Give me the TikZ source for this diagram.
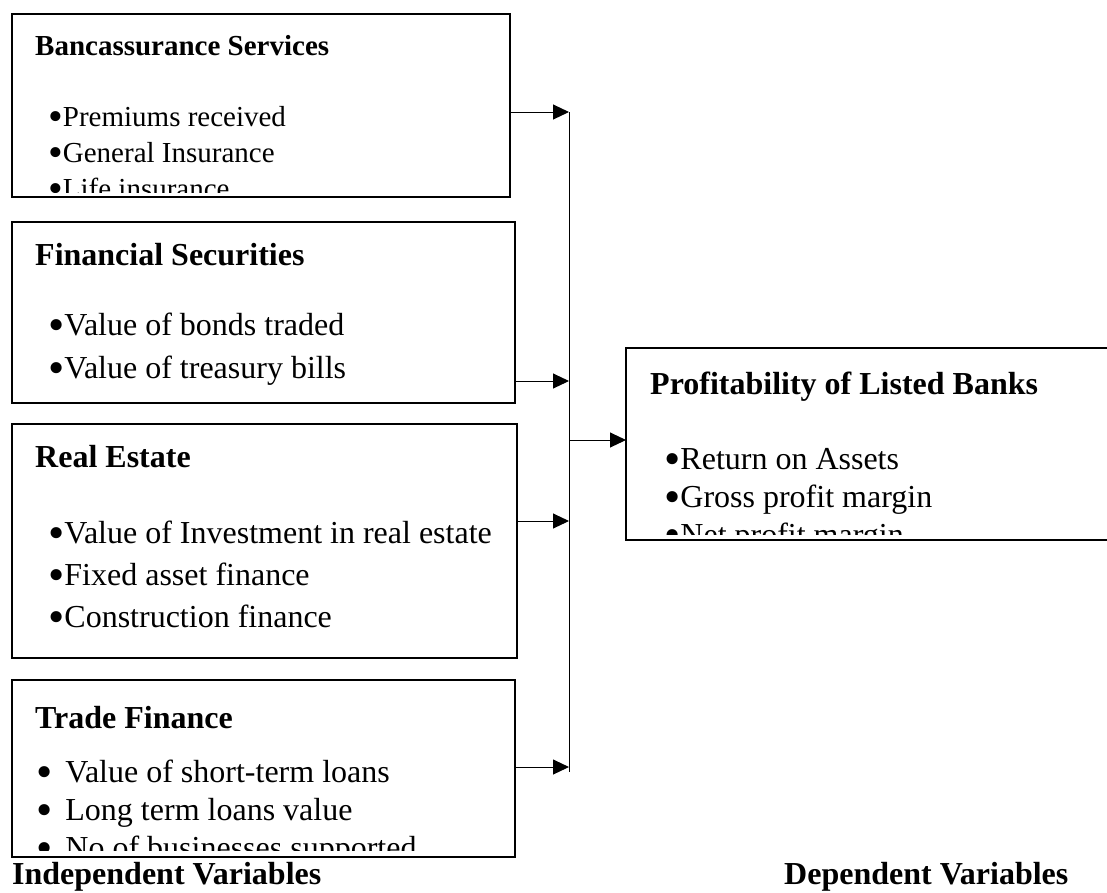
\documentclass[tikz,border=0pt]{standalone}
\usepackage{fontspec}
\setmainfont{Liberation Serif}
\usetikzlibrary{arrows.meta}
\newcommand{\bigbul}{\raisebox{-0.16em}{\scalebox{1.45}{\textbullet}}}
\begin{document}
\begin{tikzpicture}[x=1pt,y=-1pt,
  box/.style={draw,line width=1.6pt,anchor=north west,inner sep=0pt,outer sep=0pt},
  ttl/.style={anchor=base west,inner sep=0pt,font=\fontsize{32}{38}\selectfont\bfseries},
  ttls/.style={anchor=base west,inner sep=0pt,font=\fontsize{29}{35}\selectfont\bfseries},
  itm/.style={anchor=base west,inner sep=0pt,font=\fontsize{32}{38}\selectfont},
  itms/.style={anchor=base west,inner sep=0pt,font=\fontsize{29}{35}\selectfont},
  link/.style={line width=1pt,-{Triangle[length=16pt,width=15pt]}},
  bar/.style={line width=1pt},
]
\useasboundingbox (0,0) rectangle (1107,892);

% boxes
\node[box,minimum width=498pt,minimum height=183pt] (b1) at (12,14) {};
\node[box,minimum width=503pt,minimum height=181pt] (b2) at (12,222) {};
\node[box,minimum width=505pt,minimum height=234pt] (b3) at (12,424) {};
\node[box,minimum width=503pt,minimum height=177pt] (b4) at (12,680) {};
\node[box,minimum width=520pt,minimum height=192pt] (res) at (626,348) {};

% box 1
\begin{scope}
\clip (14,16) rectangle (508,192);
\node[ttls] (t1) at (35,55) {Bancassurance Services};
\node[itms] (t1a) at (48,126) {\bigbul Premiums received};
\node[itms] (t1b) at (48,162) {\bigbul General Insurance};
\node[itms] (t1c) at (48,198) {\bigbul Life insurance};
\end{scope}

% box 2
\node[ttl] (t2) at (35,265) {Financial Securities};
\node[itm] (t2a) at (48,335) {\bigbul Value of bonds traded};
\node[itm] (t2b) at (48,378) {\bigbul Value of treasury bills};

% box 3
\node[ttl] (t3) at (35,467) {Real Estate};
\node[itm] (t3a) at (48,543) {\bigbul Value of Investment in real estate};
\node[itm] (t3b) at (48,585) {\bigbul Fixed asset finance};
\node[itm] (t3c) at (48,627) {\bigbul Construction finance};

% box 4
\begin{scope}
\clip (14,682) rectangle (513,850);
\node[ttl] (t4) at (35,728) {Trade Finance};
\node[itm] (t4a) at (36,782) {\bigbul\hspace{13pt}Value of short-term loans};
\node[itm] (t4b) at (36,820) {\bigbul\hspace{13pt}Long term loans value};
\node[itm] (t4c) at (36,858) {\bigbul\hspace{13pt}No of businesses supported};
\end{scope}

% result box
\begin{scope}
\clip (628,350) rectangle (1107,534);
\node[ttl] (tr) at (650,394) {Profitability of Listed Banks};
\node[itm] (tra) at (664,469) {\bigbul Return on Assets};
\node[itm] (trb) at (664,507) {\bigbul Gross profit margin};
\node[itm] (trc) at (664,545) {\bigbul Net profit margin};
\end{scope}

% captions
\node[ttl] (ind) at (12,884) {Independent Variables};
\node[ttl] (dep) at (784,884) {Dependent Variables};

% connectors
\coordinate (j1) at (569,112);
\coordinate (j2) at (569,381);
\coordinate (j3) at (569,521);
\coordinate (j4) at (569,767);
\coordinate (jt) at (569,440);
\coordinate (jb) at (569,772);
\draw[bar] (j1) -- (jb);
\draw[link] (b1.east |- j1) -- (j1);
\draw[link] (b2.east |- j2) -- (j2);
\draw[link] (b3.east |- j3) -- (j3);
\draw[link] (b4.east |- j4) -- (j4);
\draw[link] (jt) -- (res.west |- jt);
\end{tikzpicture}
\end{document}
